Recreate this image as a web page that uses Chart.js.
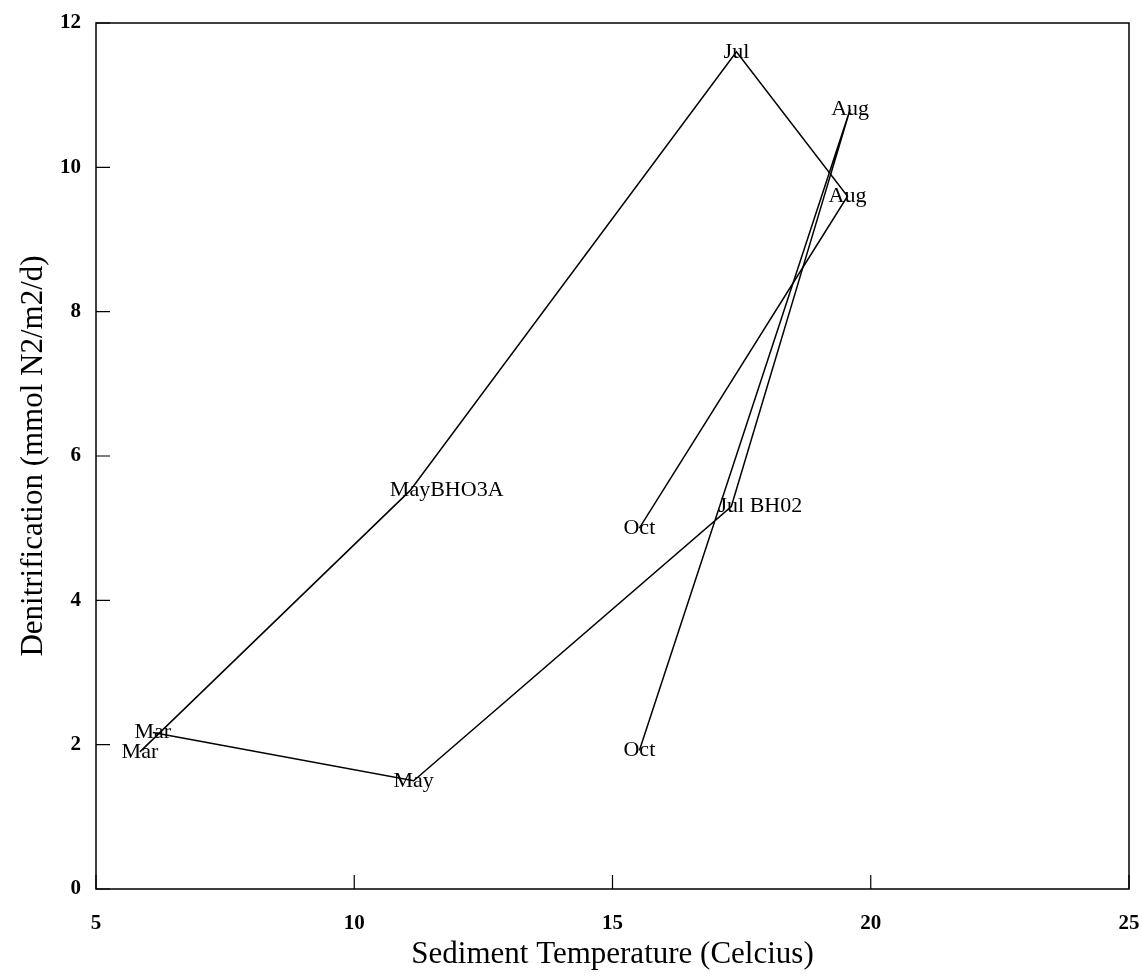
<!DOCTYPE html>
<html>
<head>
<meta charset="utf-8">
<title>Denitrification vs Sediment Temperature</title>
<script src="https://cdn.jsdelivr.net/npm/chart.js@4.4.0/dist/chart.umd.min.js"></script>
<style>
  html, body { margin: 0; padding: 0; background: #fff; }
  #wrap { width: 1142px; height: 978px; position: relative; }
</style>
</head>
<body>
<div id="wrap"><canvas id="chart"></canvas></div>
<script>
// station BHO3A
const bho3aMonths = ['Mar', 'May', 'Jul', 'Aug', 'Oct'];
const bho3aTemp = [5.85, 11.08, 17.4, 19.55, 15.52];
const bho3aDenit = [1.9, 5.52, 11.6, 9.6, 5.0];

// station BH02
const bh02Months = ['Mar', 'May', 'Jul', 'Aug', 'Oct'];
const bh02Temp = [6.1, 11.15, 17.3, 19.6, 15.52];
const bh02Denit = [2.17, 1.5, 5.3, 10.8, 1.92];

// station name is written after one of the month labels
const bho3aTag = { index: 1, text: 'BHO3A' };
const bh02Tag = { index: 2, text: ' BH02' };

const xTicks = [5, 10, 15, 20, 25];
const yTicks = [0, 2, 4, 6, 8, 10, 12];

const FONT = '"Liberation Serif", "Times New Roman", serif';

function toPoints(xs, ys) {
    return xs.map((x, i) => ({ x: x, y: ys[i] }));
}

// box round the plot with short inward tick marks
const framePlugin = {
    id: 'frame',
    afterDraw(chart) {
        const { ctx, chartArea } = chart;
        const { left, right, top, bottom } = chartArea;
        const xs = chart.scales.x;
        const ys = chart.scales.y;
        ctx.save();
        ctx.strokeStyle = '#000';
        ctx.lineWidth = 1.5;
        ctx.strokeRect(left, top, right - left, bottom - top);
        ctx.lineWidth = 1.2;
        ctx.beginPath();
        xTicks.forEach(v => {
            const px = xs.getPixelForValue(v);
            ctx.moveTo(px, bottom);
            ctx.lineTo(px, bottom - 14);
        });
        yTicks.forEach(v => {
            const py = ys.getPixelForValue(v);
            ctx.moveTo(left, py);
            ctx.lineTo(left + 14, py);
        });
        ctx.stroke();
        ctx.restore();
    }
};

// month labels centred on each point
const monthLabels = {
    id: 'monthLabels',
    afterDatasetsDraw(chart) {
        const ctx = chart.ctx;
        ctx.save();
        ctx.fillStyle = '#000';
        ctx.font = '22px ' + FONT;
        ctx.textBaseline = 'middle';
        chart.data.datasets.forEach((ds, i) => {
            const meta = chart.getDatasetMeta(i);
            meta.data.forEach((pt, j) => {
                const txt = ds.months[j];
                ctx.textAlign = 'center';
                ctx.fillText(txt, pt.x, pt.y);
                if (ds.tag && ds.tag.index === j) {
                    const w = ctx.measureText(txt).width;
                    ctx.textAlign = 'left';
                    ctx.fillText(ds.tag.text, pt.x + w / 2, pt.y);
                }
            });
        });
        ctx.restore();
    }
};

new Chart(document.getElementById('chart'), {
    type: 'scatter',
    data: {
        datasets: [
            {
                label: 'BHO3A',
                data: toPoints(bho3aTemp, bho3aDenit),
                months: bho3aMonths,
                tag: bho3aTag,
                showLine: true,
                borderColor: '#000',
                borderWidth: 1.5,
                pointRadius: 0,
                tension: 0
            },
            {
                label: 'BH02',
                data: toPoints(bh02Temp, bh02Denit),
                months: bh02Months,
                tag: bh02Tag,
                showLine: true,
                borderColor: '#000',
                borderWidth: 1.5,
                pointRadius: 0,
                tension: 0
            }
        ]
    },
    options: {
        responsive: true,
        maintainAspectRatio: false,
        animation: false,
        layout: { padding: { left: 0, top: 23, right: 13, bottom: 0 } },
        plugins: {
            legend: { display: false },
            tooltip: { enabled: false }
        },
        scales: {
            x: {
                type: 'linear',
                min: 5,
                max: 25,
                afterBuildTicks: s => { s.ticks = xTicks.map(v => ({ value: v })); },
                afterFit: s => {
                    s.height = 89;
                    s.paddingLeft = 0;
                    s.paddingRight = 0;
                },
                grid: { drawOnChartArea: false, drawTicks: false },
                border: { display: false },
                ticks: {
                    color: '#000',
                    padding: 22,
                    maxRotation: 0,
                    font: { family: FONT, size: 21, weight: 'bold' }
                },
                title: {
                    display: true,
                    text: 'Sediment Temperature (Celcius)',
                    color: '#000',
                    padding: { top: 0, bottom: 5 },
                    font: { family: FONT, size: 31 }
                }
            },
            y: {
                type: 'linear',
                min: 0,
                max: 12,
                afterBuildTicks: s => { s.ticks = yTicks.map(v => ({ value: v })); },
                afterFit: s => {
                    s.width = 96;
                    s.paddingTop = 0;
                    s.paddingBottom = 0;
                },
                grid: { drawOnChartArea: false, drawTicks: false },
                border: { display: false },
                ticks: {
                    color: '#000',
                    padding: 15,
                    font: { family: FONT, size: 21, weight: 'bold' }
                },
                title: {
                    display: true,
                    text: 'Denitrification (mmol N2/m2/d)',
                    color: '#000',
                    padding: { top: 15, bottom: 0 },
                    font: { family: FONT, size: 31 }
                }
            }
        }
    },
    plugins: [framePlugin, monthLabels]
});
</script>
</body>
</html>
